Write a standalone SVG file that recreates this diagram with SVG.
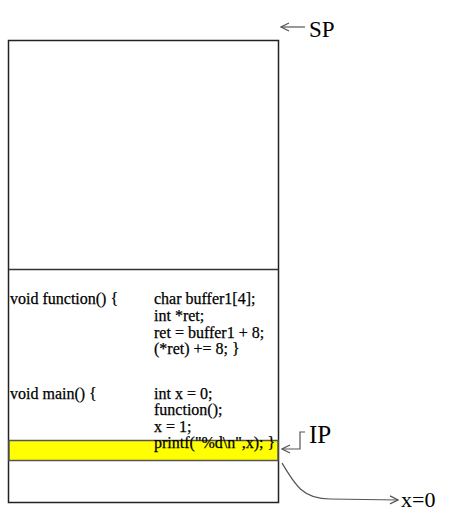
<svg xmlns="http://www.w3.org/2000/svg" width="451" height="517" viewBox="0 0 451 517">
<style>
.code{font-family:"Liberation Serif","Times New Roman",serif;font-size:16px;fill:#000;stroke:#000;stroke-width:0.25}
.lbl{font-family:"Liberation Serif","Times New Roman",serif;fill:#000}
.conn{fill:none;stroke:#555;stroke-width:1.2}
</style>
<defs>
<marker id="open" markerWidth="10" markerHeight="10" refX="9" refY="5" orient="auto" markerUnits="userSpaceOnUse">
<path d="M1,1 L9,5 L1,9" fill="none" stroke="#555" stroke-width="1.2"/>
</marker>
</defs>
<rect width="451" height="517" fill="#fff"/>
<g id="stack">
<rect x="8.5" y="40.5" width="270" height="462" fill="#fff" stroke="#222" stroke-width="1.5"/>
<line x1="8.5" y1="269.5" x2="278.5" y2="269.5" stroke="#333" stroke-width="1.5"/>
<rect x="9" y="440.5" width="269" height="20" fill="#ffff00" stroke="#555" stroke-width="1.5"/>
</g>
<g id="function-code">
<text class="code" x="10" y="304">void function() {</text>
<text class="code" x="154" y="304">char buffer1[4];</text>
<text class="code" x="154" y="321">int *ret;</text>
<text class="code" x="154" y="338">ret = buffer1 + 8;</text>
<text class="code" x="154" y="354">(*ret) += 8; }</text>
</g>
<g id="main-code">
<text class="code" x="10" y="399">void main() {</text>
<text class="code" x="154" y="399">int x = 0;</text>
<text class="code" x="154" y="415">function();</text>
<text class="code" x="154" y="432">x = 1;</text>
<text class="code" x="154" y="448">printf("%d\n",x); }</text>
</g>
<g id="labels">
<text class="lbl" x="309" y="37" font-size="23">SP</text>
<text class="lbl" x="309" y="443" font-size="25">IP</text>
<text class="lbl" x="401" y="507" font-size="22">x=0</text>
</g>
<g id="connectors">
<line class="conn" x1="305" y1="27" x2="281" y2="27" marker-end="url(#open)"/>
<path class="conn" d="M305,432 L300,432 L300,449 L282,449" marker-end="url(#open)"/>
<path class="conn" d="M282,463 C295,485 303,499 330,499 L398,500" marker-end="url(#open)"/>
</g>
</svg>
